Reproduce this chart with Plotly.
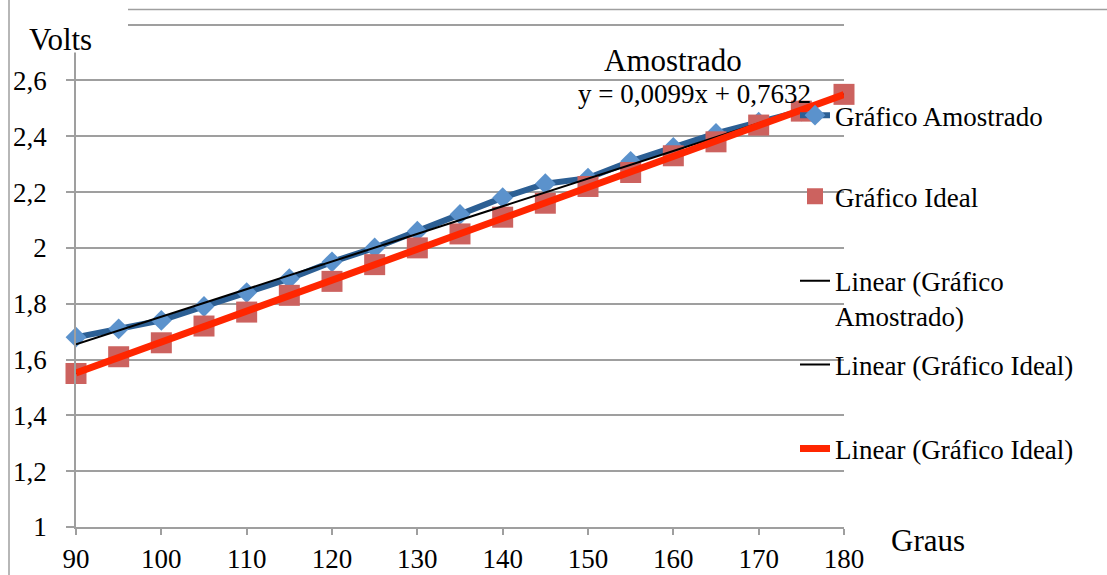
import numpy as np
import plotly.graph_objects as go

# Medições: tensão (V) em função do ângulo (graus)
graus_amostrado = [90, 95, 100, 105, 110, 115, 120, 125, 130, 135, 140, 145, 150, 155, 160, 165, 170, 175]
volts_amostrado = [1.68, 1.71, 1.74, 1.79, 1.84, 1.89, 1.95, 2.00, 2.06, 2.12, 2.18, 2.23, 2.25, 2.31, 2.36, 2.41, 2.45, 2.49]

graus_ideal = [90, 95, 100, 105, 110, 115, 120, 125, 130, 135, 140, 145, 150, 155, 160, 165, 170, 175, 180]
volts_ideal = [1.55, 1.61, 1.66, 1.72, 1.77, 1.83, 1.88, 1.94, 2.00, 2.05, 2.11, 2.16, 2.22, 2.27, 2.33, 2.38, 2.44, 2.49, 2.55]

# Coeficientes da linha de tendência do gráfico amostrado
coef_a = 0.0099
coef_b = 0.7632

x_ticks = [90, 100, 110, 120, 130, 140, 150, 160, 170, 180]
y_ticks = [1.0, 1.2, 1.4, 1.6, 1.8, 2.0, 2.2, 2.4, 2.6, 2.8]
y_tick_text = ["1", "1,2", "1,4", "1,6", "1,8", "2", "2,2", "2,4", "2,6", ""]

FONT = "Liberation Serif"
FS = 27
FS_TITLE = 31
GRID = "#9f9f9f"

W, H = 1107, 575
Y_MIN, Y_MAX = 1.0, 2.82
L, R, B = 76, 263, 48
# topo da área de plotagem: 2,8 cai a 25 px do topo
T = (H - B) - (H - B - 25) * (Y_MAX - Y_MIN) / (2.8 - Y_MIN)


def px_x(px):
    return (px - L) / (W - L - R)


def px_y(py):
    return (H - B - py) / (H - T - B)


# Tendências lineares
xa = np.array([min(graus_amostrado), max(graus_amostrado)], dtype=float)
ya = coef_a * xa + coef_b
pi = np.polyfit(graus_ideal, volts_ideal, 1)
xi = np.array([min(graus_ideal), max(graus_ideal)], dtype=float)
yi = np.polyval(pi, xi)

fig = go.Figure()
fig.add_trace(go.Scatter(
    x=graus_amostrado, y=volts_amostrado, name="Gráfico Amostrado",
    mode="lines+markers", cliponaxis=False, legend="legend",
    line=dict(color="#2c5f94", width=6),
    marker=dict(symbol="diamond", size=16, color="#5b92cc"),
))
fig.add_trace(go.Scatter(
    x=graus_ideal, y=volts_ideal, name="Gráfico Ideal",
    mode="markers", cliponaxis=False, legend="legend2",
    marker=dict(symbol="square", size=21, color="#cc625f"),
))
fig.add_trace(go.Scatter(
    x=xa, y=ya, name="Linear (Gráfico<br>Amostrado)",
    mode="lines", cliponaxis=False, legend="legend3",
    line=dict(color="black", width=2),
))
fig.add_trace(go.Scatter(
    x=xi, y=yi, name="Linear (Gráfico Ideal)",
    mode="lines", cliponaxis=False, legend="legend4",
    line=dict(color="black", width=2),
))
fig.add_trace(go.Scatter(
    x=xi, y=yi, name="Linear (Gráfico Ideal)",
    mode="lines", cliponaxis=False, legend="legend5",
    line=dict(color="#ff2600", width=7),
))

legend_base = dict(
    font=dict(family=FONT, size=FS, color="black"),
    bgcolor="rgba(0,0,0,0)", borderwidth=0,
    xanchor="left", yanchor="middle", valign="top",
    itemclick=False, itemdoubleclick=False,
)
leg_x = px_x(795)

fig.update_layout(
    width=W, height=H, autosize=False,
    margin=dict(l=L, r=R, t=T, b=B, pad=0),
    paper_bgcolor="white", plot_bgcolor="white",
    font=dict(family=FONT, size=FS, color="black"),
    showlegend=True,
    legend=dict(legend_base, x=leg_x, y=px_y(116)),
    legend2=dict(legend_base, x=leg_x, y=px_y(197)),
    legend3=dict(legend_base, x=leg_x, y=px_y(299)),
    legend4=dict(legend_base, x=leg_x, y=px_y(365)),
    legend5=dict(legend_base, x=leg_x, y=px_y(449)),
    xaxis=dict(
        range=[90, 180], tickvals=x_ticks, showgrid=False, zeroline=False,
        showline=True, linecolor=GRID, linewidth=1.5, automargin=False,
        ticks="outside", ticklen=6, tickwidth=1.5, tickcolor=GRID,
        tickfont=dict(family=FONT, size=FS), ticklabelstandoff=1,
    ),
    yaxis=dict(
        range=[Y_MIN, Y_MAX], tickvals=y_ticks, ticktext=y_tick_text,
        showgrid=True, gridcolor=GRID, gridwidth=1.5, zeroline=False,
        showline=True, linecolor=GRID, linewidth=1.5, automargin=False,
        ticks="outside", ticklen=8, tickwidth=1.5, tickcolor=GRID,
        tickfont=dict(family=FONT, size=FS), ticklabelstandoff=14,
    ),
    shapes=[
        # caixa do título do eixo vertical
        dict(type="rect", xref="paper", yref="paper", layer="above",
             x0=px_x(10), x1=px_x(128), y0=px_y(53), y1=px_y(-5),
             fillcolor="white", line=dict(width=0)),
        # moldura
        dict(type="line", xref="paper", yref="paper",
             x0=px_x(128), x1=px_x(1110), y0=px_y(10), y1=px_y(10),
             line=dict(color=GRID, width=1.5)),
        dict(type="line", xref="paper", yref="paper",
             x0=px_x(9), x1=px_x(9), y0=px_y(-5), y1=px_y(580),
             line=dict(color=GRID, width=1.5)),
    ],
    annotations=[
        dict(text="Volts", xref="paper", yref="paper", x=px_x(60), y=px_y(40),
             showarrow=False, xanchor="center", yanchor="middle",
             font=dict(family=FONT, size=FS_TITLE)),
        dict(text="Graus", xref="paper", yref="paper", x=px_x(928), y=px_y(540),
             showarrow=False, xanchor="center", yanchor="middle",
             font=dict(family=FONT, size=FS_TITLE)),
        dict(text="Amostrado", xref="x", yref="y", x=160, y=2.672,
             showarrow=False, xanchor="center", yanchor="middle",
             font=dict(family=FONT, size=FS_TITLE)),
        dict(text=f"y = {coef_a:.4f}x + {coef_b:.4f}".replace(".", ","),
             xref="x", yref="y", x=162.5, y=2.55,
             showarrow=False, xanchor="center", yanchor="middle",
             font=dict(family=FONT, size=FS)),
    ],
)

fig.write_html("out.html")
